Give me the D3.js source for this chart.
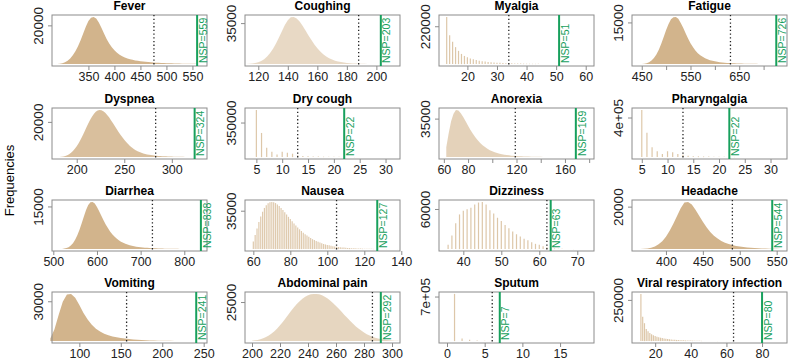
<!DOCTYPE html>
<html>
<head>
<meta charset="utf-8">
<script src="https://cdn.jsdelivr.net/npm/d3@7"></script>
<style>
  body { margin: 0; background: #fff; }
  svg { display: block; font-family: "Liberation Sans", Arial, sans-serif; }
</style>
</head>
<body>
<script>
// panel titles, observed NSP values and the dotted cut-off, in panel order
const titles = ["Fever", "Coughing", "Myalgia", "Fatigue", "Dyspnea", "Dry cough", "Anorexia", "Pharyngalgia",
  "Diarrhea", "Nausea", "Dizziness", "Headache", "Vomiting", "Abdominal pain", "Sputum", "Viral respiratory infection"];
const nsp = [559, 203, 51, 726, 324, 22, 169, 22, 838, 127, 63, 544, 241, 292, 7, 80];
const cutoffs = [476, 188, 34, 632, 283, 13, 119, 13, 727, 105, 62, 490, 157, 286, 6, 64];

// axis limits (usr range) and ticks
const xLimits = [[280, 578], [111, 216], [10.4, 62.8], [430, 748], [174, 337], [2.8, 32.8], [56, 184], [3.1, 33.2],
  [497, 852], [55.5, 139.3], [33.6, 74.4], [354, 564], [67, 254], [195, 305.7], [-1.06, 19.5], [7, 94]];
const xTicks = [[350, 400, 450, 500, 550], [120, 140, 160, 180, 200], [20, 30, 40, 50, 60], [450, 500, 550, 600, 650, 700],
  [200, 250, 300], [5, 10, 15, 20, 25, 30], [60, 80, 100, 120, 140, 160, 180], [5, 10, 15, 20, 25, 30],
  [500, 600, 700, 800], [60, 80, 100, 120, 140], [40, 50, 60, 70], [400, 450, 500, 550],
  [100, 150, 200, 250], [200, 220, 240, 260, 280, 300], [0, 5, 10, 15], [20, 40, 60, 80]];
const xLabels = [[350, 400, 450, 500, 550], [120, 140, 160, 180, 200], [20, 30, 40, 50, 60], [450, 550, 650],
  [200, 250, 300], [5, 10, 15, 20, 25, 30], [60, 80, 120, 160], [5, 10, 15, 20, 25, 30],
  [500, 600, 700, 800], [60, 80, 100, 120, 140], [40, 50, 60, 70], [400, 450, 500, 550],
  [100, 150, 200, 250], [200, 220, 240, 260, 280, 300], [0, 5, 10, 15], [20, 40, 60, 80]];
const yTicks = [20000, 35000, 220000, 15000, 20000, 350000, 35000, 400000, 15000, 35000, 60000, 20000, 30000, 25000, 700000, 250000];
const yTickLabels = ["20000", "35000", "220000", "15000", "20000", "350000", "35000", "4e+05", "15000", "35000", "60000", "20000",
  "30000", "25000", "7e+05", "250000"];

// frequencies: first value sits at starts[i], one value per binWidths[i] units
const starts = [290, 112, 13, 450, 180, 5, 62, 5, 515, 60, 36, 365, 65, 200, 1, 12];
const binWidths = [5, 2, 1, 5, 2, 1, 2, 1, 5, 1, 1, 5, 5, 2, 1, 1];

const fever = [50, 200, 500, 1000, 1800, 3000, 4600, 6700, 9300, 12500, 16000, 19500, 22500, 24300, 24700, 23800, 21800,
  19000, 16000, 13200, 10800, 8800, 7200, 5900, 4900, 4100, 3500, 3000, 2600, 2250, 1950, 1700, 1500, 1330, 1180, 1050,
  940, 840, 750, 670, 600, 540, 480, 430, 390, 350, 310, 280, 250, 220, 200, 180, 160, 140, 120, 100, 80];
const coughing = [100, 250, 500, 900, 1600, 2700, 4300, 6500, 9500, 13200, 17800, 23000, 28500, 33800, 38000, 40500, 40800,
  39500, 36800, 33200, 29000, 24800, 20800, 17000, 13700, 10900, 8500, 6600, 5100, 3900, 3000, 2300, 1750, 1350, 1050,
  800, 620, 480, 370, 290, 220, 170, 130, 100, 80, 60, 45, 35, 25, 20, 15, 10, 8, 6, 5, 4, 3, 2];
const myalgia = [278000, 170000, 132000, 100000, 78000, 60000, 48000, 40000, 33000, 28000, 24000, 20500, 17500, 15000,
  13000, 11200, 9800, 8500, 7400, 6500, 5700, 5000, 4400, 3900, 3400, 3000, 2700, 2400, 2100, 1900, 1700, 1500, 1300,
  1150, 1000, 900, 800, 700, 600, 520, 450, 400, 350, 300, 250];
const fatigue = [50, 150, 350, 700, 1300, 2200, 3500, 5200, 7400, 9900, 12400, 14600, 16300, 17100, 17200, 16500, 15000,
  13200, 11200, 9300, 7600, 6200, 5000, 4000, 3250, 2650, 2150, 1750, 1450, 1200, 1000, 850, 720, 610, 520, 450, 390,
  340, 300, 260, 230, 200, 175, 155, 135, 120, 105, 92, 80, 70, 60, 52, 45, 38, 32, 26, 20];
const dyspnea = [30, 80, 180, 350, 650, 1100, 1700, 2500, 3500, 4800, 6300, 8000, 10000, 12200, 14500, 16900, 19200, 21400,
  23300, 24900, 26100, 26900, 27200, 27000, 26400, 25500, 24300, 22900, 21300, 19600, 17900, 16200, 14500, 12900, 11400,
  10000, 8700, 7500, 6450, 5500, 4700, 4000, 3400, 2900, 2450, 2100, 1800, 1550, 1350, 1180, 1030, 900, 800, 700, 620,
  550, 490, 430, 380, 340, 300, 265, 235, 205, 180, 160, 140, 120, 105, 90, 78, 66, 55, 45, 36, 28, 20, 14];
const dryCough = [485000, 248000, 96000, 55000, 27000, 55000, 45000, 35000, 20000, 12000, 9000, 7000, 5500, 4500, 3500,
  3000, 2500, 2000, 1600, 1300, 1000, 800, 600];
const anorexia = [9000, 22000, 33000, 40000, 43500, 43000, 40500, 37000, 33000, 29000, 25000, 21500, 18300, 15500, 13000,
  11000, 9200, 7700, 6400, 5400, 4500, 3800, 3200, 2700, 2250, 1900, 1600, 1350, 1150, 980, 840, 720, 620, 530, 460, 400,
  345, 300, 260, 225, 195, 170, 148, 128, 110, 95, 82, 70, 60, 50, 42, 35, 28, 22, 17, 13, 10, 8];
const pharyngalgia = [483000, 250000, 100000, 60000, 33000, 60000, 50000, 33000, 23000, 14000, 10000, 8000, 6500, 5200,
  4200, 3400, 2700, 2200, 1800, 1400, 1100, 850, 650];
const diarrhea = [30, 80, 180, 370, 700, 1250, 2100, 3300, 4900, 6900, 9200, 11600, 13900, 15700, 16700, 16800, 16200,
  15000, 13500, 11900, 10300, 8800, 7500, 6300, 5300, 4450, 3750, 3150, 2650, 2250, 1900, 1620, 1380, 1180, 1010, 870,
  750, 650, 570, 500, 440, 390, 345, 305, 270, 240, 215, 190, 170, 150, 135, 120, 105, 95, 85, 75, 65, 57, 50, 44, 38,
  33, 28, 23, 18, 14];
const nausea = [7000, 13000, 19000, 25000, 30000, 34500, 38000, 40500, 42300, 43300, 43600, 43300, 42500, 41300, 39800,
  38000, 36000, 34000, 31900, 29800, 27700, 25700, 23700, 21800, 20000, 18300, 16700, 15200, 13800, 12500, 11300, 10200,
  9200, 8300, 7400, 6700, 6000, 5400, 4800, 4300, 3850, 3450, 3100, 2750, 2450, 2200, 1950, 1750, 1550, 1380, 1230,
  1100, 980, 870, 780, 690, 610, 540, 480, 430, 380, 340, 300, 265, 235, 210, 185, 165, 145, 130, 115, 100, 90, 80, 70,
  60, 52, 45, 40, 35, 30, 25, 20, 16, 12, 9];
const dizziness = [6500, 20500, 39000, 52500, 58000, 60500, 62500, 67500, 70500, 71500, 67500, 59000, 54000, 47500, 42500,
  36500, 31500, 26500, 22500, 19000, 15500, 13500, 10500, 8000, 6500, 4500, 3000, 1500, 1000, 600, 400, 300, 200, 150,
  100, 80, 60, 50, 40, 30, 25, 20, 15, 12, 10, 8, 6, 5, 4, 3];
const headache = [50, 150, 350, 700, 1300, 2300, 3800, 5900, 8700, 12100, 15800, 19500, 22200, 22500, 21200, 18800, 15900,
  13000, 10400, 8200, 6400, 5000, 3900, 3050, 2400, 1900, 1500, 1200, 950, 760, 610, 490, 390, 310, 250, 200, 160, 120, 90];
const vomiting = [2000, 9000, 20000, 30000, 35500, 36000, 33000, 27500, 21500, 16500, 12500, 9500, 7300, 5700, 4500, 3600,
  2900, 2350, 1900, 1550, 1250, 1000, 820, 670, 550, 450, 370, 300, 245, 200, 160, 130, 105, 85, 70, 55, 45, 35];
const abdominalPain = [300, 500, 800, 1200, 1800, 2600, 3600, 4900, 6400, 8200, 10200, 12400, 14800, 17200, 19600, 21900,
  24000, 25900, 27500, 28800, 29700, 30300, 30600, 30600, 30300, 29700, 28800, 27600, 26200, 24600, 22800, 20900, 19000,
  17000, 15100, 13200, 11400, 9700, 8200, 6800, 5600, 4500, 3600, 2800, 2200, 1700, 1300, 1000, 750, 550, 400, 280, 190, 130];
const sputum = [750000, 40000, 20000, 10000, 6000, 4000, 2500, 1500, 1000, 700, 500, 300, 200, 150, 100, 70, 50];
const viral = [290000, 150000, 110000, 75000, 60000, 50000, 42000, 36000, 31000, 27000, 24000, 21000, 18500, 16500, 14500,
  13000, 11500, 10200, 9000, 8000, 7200, 6400, 5700, 5100, 4600, 4100, 3700, 3300, 3000, 2700, 2400, 2150, 1900, 1700,
  1500, 1350, 1200, 1050, 950, 850, 750, 650, 570, 500, 440, 380, 330, 290, 250, 210, 180, 150, 120, 100, 80, 60, 45,
  35, 25, 20, 15, 10, 8, 6, 5, 4, 3, 2, 2];

const counts = [fever, coughing, myalgia, fatigue, dyspnea, dryCough, anorexia, pharyngalgia,
  diarrhea, nausea, dizziness, headache, vomiting, abdominalPain, sputum, viral];

// how strong the tan fill reads in each panel (thin lines vs. solid area)
const fillOpacity = [1, 0.5, 0.75, 1, 0.85, 0.75, 0.6, 0.75, 1, 0.7, 0.75, 1, 1, 0.55, 0.75, 0.75];

const width = 798, height = 361;
const colX = [52, 245, 439, 632];
const rowY = [15, 108, 200, 292];
const boxW = 155, boxH = 51;
const tan = "#D2B48C";
const green = "#17A05D";

const svg = d3.select("body").append("svg")
  .attr("width", width)
  .attr("height", height);

svg.append("text")
  .attr("transform", `translate(9,${height / 2}) rotate(-90)`)
  .attr("text-anchor", "middle")
  .attr("dy", "0.35em")
  .attr("font-size", 13)
  .text("Frequencies");

titles.forEach((title, i) => {
  const x0 = colX[i % 4], y0 = rowY[Math.floor(i / 4)];
  const vals = counts[i];
  const ymax = d3.max(vals);

  const x = d3.scaleLinear().domain(xLimits[i]).range([x0, x0 + boxW]);
  const y = d3.scaleLinear().domain([-0.04 * ymax, 1.04 * ymax]).range([y0 + boxH, y0]);

  const g = svg.append("g");
  const data = vals.map((v, k) => ({ x: starts[i] + k * binWidths[i], v: v }));

  if (binWidths[i] > 1) {
    // dense panels: the vertical lines merge into one area
    const area = d3.area()
      .x(d => x(d.x))
      .y0(y(0))
      .y1(d => y(d.v));
    g.append("path")
      .datum(data)
      .attr("d", area)
      .attr("fill", tan)
      .attr("fill-opacity", fillOpacity[i]);
  } else {
    g.selectAll("line").data(data).enter().append("line")
      .attr("x1", d => x(d.x)).attr("x2", d => x(d.x))
      .attr("y1", y(0)).attr("y2", d => y(d.v))
      .attr("stroke", tan)
      .attr("stroke-width", 1.2)
      .attr("stroke-opacity", fillOpacity[i]);
  }

  // frame
  g.append("rect")
    .attr("x", x0).attr("y", y0)
    .attr("width", boxW).attr("height", boxH)
    .attr("fill", "none")
    .attr("stroke", "#8c8c8c");

  // x axis
  const xAxis = d3.axisBottom(x)
    .tickValues(xTicks[i])
    .tickSize(4)
    .tickPadding(2)
    .tickFormat(d => xLabels[i].includes(d) ? d : "");
  const ax = g.append("g")
    .attr("transform", `translate(0,${y0 + boxH})`)
    .call(xAxis);
  ax.select(".domain").remove();
  ax.selectAll(".tick line").attr("stroke", "#8c8c8c");
  ax.selectAll(".tick text")
    .attr("font-size", 12.5)
    .attr("font-family", "Liberation Sans, Arial, sans-serif")
    .attr("fill", "#222");

  // y axis: a single tick
  const yy = y(yTicks[i]);
  g.append("line")
    .attr("x1", x0 - 4).attr("x2", x0)
    .attr("y1", yy).attr("y2", yy)
    .attr("stroke", "#8c8c8c");
  g.append("text")
    .attr("transform", `translate(${x0 - 14},${yy}) rotate(-90)`)
    .attr("text-anchor", "middle")
    .attr("dy", "0.35em")
    .attr("font-size", 13.5)
    .attr("fill", "#222")
    .text(yTickLabels[i]);

  // title
  g.append("text")
    .attr("x", x0 + boxW / 2).attr("y", y0 - 5)
    .attr("text-anchor", "middle")
    .attr("font-size", 12)
    .attr("font-weight", "bold")
    .text(title);

  // cut-off (dotted) and observed NSP (green)
  g.append("line")
    .attr("x1", x(cutoffs[i])).attr("x2", x(cutoffs[i]))
    .attr("y1", y0).attr("y2", y0 + boxH)
    .attr("stroke", "#222")
    .attr("stroke-width", 1.3)
    .attr("stroke-dasharray", "1.3,2.4");
  g.append("line")
    .attr("x1", x(nsp[i])).attr("x2", x(nsp[i]))
    .attr("y1", y0).attr("y2", y0 + boxH)
    .attr("stroke", green)
    .attr("stroke-width", 2);
  g.append("text")
    .attr("transform", `translate(${x(nsp[i]) + 6},${y0 + boxH - 3}) rotate(-90)`)
    .attr("dy", "0.35em")
    .attr("font-size", 10.5)
    .attr("fill", green)
    .text("NSP=" + nsp[i]);
});
</script>
</body>
</html>
